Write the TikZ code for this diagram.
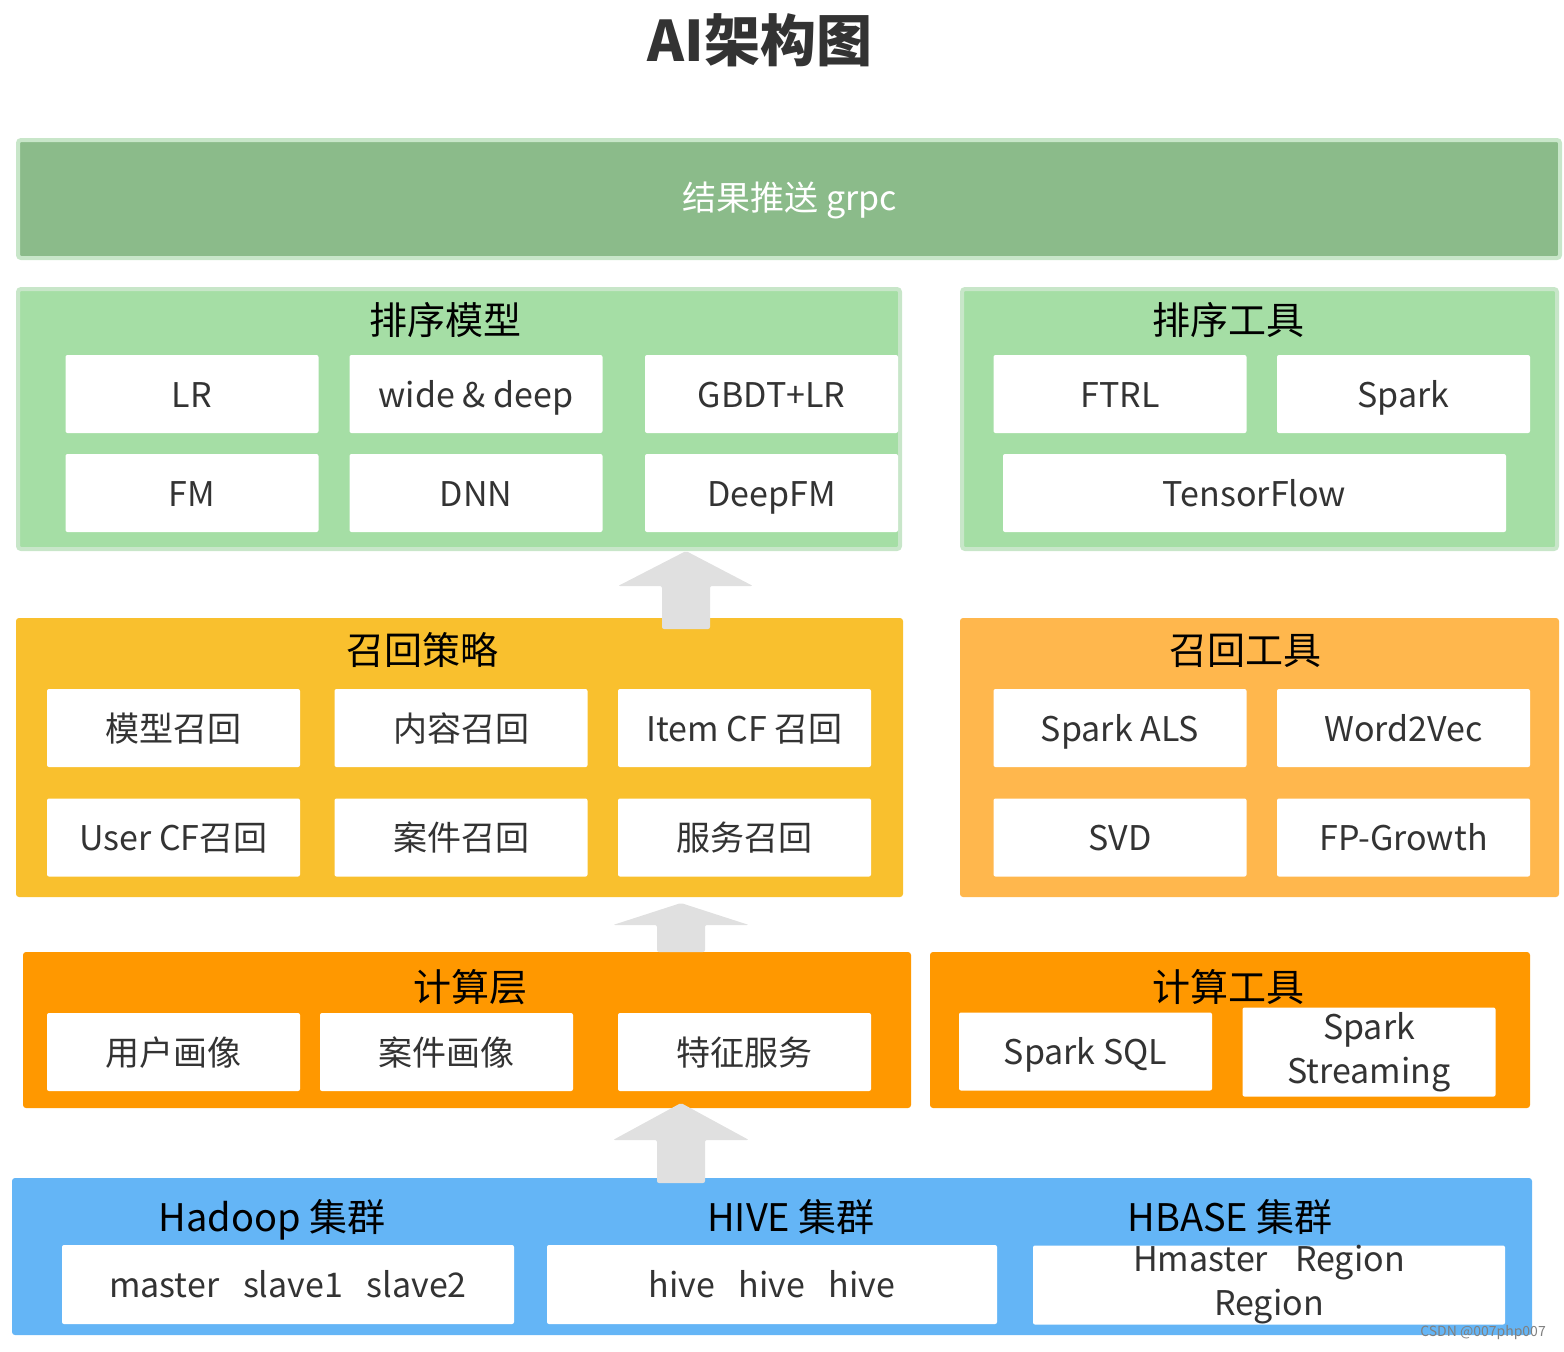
\documentclass[tikz,border=0pt]{standalone}
\usepackage{fontspec}
\setmainfont{Noto Sans CJK SC}
\usetikzlibrary{positioning,calc}
\definecolor{verdeo}{HTML}{8BBB8A}
\definecolor{verdeb}{HTML}{C8E6C9}
\definecolor{verdec}{HTML}{A5DEA5}
\definecolor{amarillo}{HTML}{F9C02E}
\definecolor{naranjac}{HTML}{FFB74D}
\definecolor{naranja}{HTML}{FF9800}
\definecolor{azulc}{HTML}{64B5F6}
\definecolor{gris}{HTML}{E0E0E0}
\definecolor{texto}{HTML}{333333}

\begin{document}
\begin{tikzpicture}[x=0.5pt,y=-0.5pt,
  capa/.style={rounded corners=1.5pt,inner sep=0pt},
  caja2/.style={fill=white,rounded corners=1pt,inner sep=0pt,minimum width=126.5pt,minimum height=39pt,
               align=center,font=\fontsize{17}{22}\selectfont,text=texto},
  caja/.style={caja2,text height=14.5pt,text depth=1.5pt},
  cabecera/.style={font=\fontsize{19}{21}\selectfont,text=black,inner sep=0pt,text height=16pt,text depth=2pt},
  flecha/.style={fill=gris,rounded corners=1pt}]
  \useasboundingbox (0,0) rectangle (1564,1351);
  \node[font=\bfseries\fontsize{28}{30}\selectfont,text=texto] (titulo) at (760,40) {AI架构图};

  % resultado
  \node[capa,fill=verdeo,draw=verdeb,line width=2pt,minimum width=771pt,minimum height=59pt] (push) at (789,199) {};
  \node[text=white,font=\fontsize{17}{19}\selectfont] (pusht) at (790,200) {结果推送 grpc};

  % ranking
  \node[capa,fill=verdec,draw=verdeb,line width=2pt,minimum width=441pt,minimum height=130pt] (rankm) at (459,419) {};
  \node[cabecera] (rankmt) at (445,320) {排序模型};
  \node[caja] (lr) at (192,394) {LR};
  \node[caja] (wd) at (476,394) {wide \& deep};
  \node[caja] (gbdt) at (771.5,394) {GBDT+LR};
  \node[caja] (fm) at (192,493) {FM};
  \node[caja] (dnn) at (476,493) {DNN};
  \node[caja] (dfm) at (771.5,493) {DeepFM};

  \node[capa,fill=verdec,draw=verdeb,line width=2pt,minimum width=297.5pt,minimum height=130pt] (rankt) at (1259.5,419) {};
  \node[cabecera] (ranktt) at (1228,320) {排序工具};
  \node[caja] (ftrl) at (1120,394) {FTRL};
  \node[caja] (spark) at (1403.5,394) {Spark};
  \node[caja,minimum width=251.5pt] (tf) at (1254.5,493) {TensorFlow};

  % recall
  \node[capa,fill=amarillo,minimum width=443.5pt,minimum height=139.5pt] (recm) at (459.5,757.5) {};
  \node[cabecera] (recmt) at (422,650) {召回策略};
  \node[caja] (mod) at (173.5,728) {模型召回};
  \node[caja] (cont) at (461,728) {内容召回};
  \node[caja] (icf) at (744.5,728) {Item CF 召回};
  \node[caja] (ucf) at (173.5,837.5) {User CF召回};
  \node[caja] (caso) at (461,837.5) {案件召回};
  \node[caja] (serv) at (744.5,837.5) {服务召回};

  \node[capa,fill=naranjac,minimum width=299.5pt,minimum height=139.5pt] (rect) at (1259.5,757.5) {};
  \node[cabecera] (rectt) at (1245,650) {召回工具};
  \node[caja] (als) at (1120,728) {Spark ALS};
  \node[caja] (w2v) at (1403.5,728) {Word2Vec};
  \node[caja] (svd) at (1120,837.5) {SVD};
  \node[caja] (fpg) at (1403.5,837.5) {FP-Growth};

  % computo
  \node[capa,fill=naranja,minimum width=444pt,minimum height=78pt] (calc) at (467,1030) {};
  \node[cabecera] (calct) at (470,987) {计算层};
  \node[caja] (usr) at (173.5,1052) {用户画像};
  \node[caja] (cimg) at (446.5,1052) {案件画像};
  \node[caja] (feat) at (744.5,1052) {特征服务};

  \node[capa,fill=naranja,minimum width=300pt,minimum height=78pt] (calh) at (1230,1030) {};
  \node[cabecera] (calht) at (1228,987) {计算工具};
  \node[caja] (sql) at (1085.5,1051.5) {Spark SQL};
  \node[caja2,minimum height=44.5pt] (stream) at (1369,1052) {Spark\\Streaming};

  % cluster
  \node[capa,fill=azulc,minimum width=760pt,minimum height=78.5pt] (clus) at (772,1256.5) {};
  \node[cabecera] (hadt) at (272,1217) {Hadoop 集群};
  \node[cabecera] (hivt) at (791,1217) {HIVE 集群};
  \node[cabecera] (hbat) at (1230,1217) {HBASE 集群};
  \node[caja,minimum width=226pt,minimum height=39.5pt] (had) at (288,1284.5) {master\hspace{0.7em}slave1\hspace{0.7em}slave2};
  \node[caja,minimum width=225pt,minimum height=39.5pt] (hiv) at (772,1284.5) {hive\hspace{0.7em}hive\hspace{0.7em}hive};
  \node[caja2,minimum width=236pt,minimum height=39.5pt] (hba) at (1269,1285) {Hmaster\hspace{0.8em}Region\\Region};

  % flechas
  \coordinate (f1) at (686,551);
  \coordinate (f2) at (681,903);
  \coordinate (f3) at (681,1103);
  \fill[flecha] (f1) -- ++(67,35) -- ++(-43,0) -- ++(0,43) -- ++(-48,0) -- ++(0,-43) -- ++(-44,0) -- cycle;
  \fill[flecha] (f2) -- ++(68,22) -- ++(-44,0) -- ++(0,27) -- ++(-48,0) -- ++(0,-27) -- ++(-44,0) -- cycle;
  \fill[flecha] (f3) -- ++(68,37) -- ++(-44,0) -- ++(0,43) -- ++(-48,0) -- ++(0,-43) -- ++(-44,0) -- cycle;

  \node[text=gray,font=\fontsize{7}{8}\selectfont,inner sep=0pt] (marca) at (1483,1333) {CSDN @007php007};
\end{tikzpicture}
\end{document}
